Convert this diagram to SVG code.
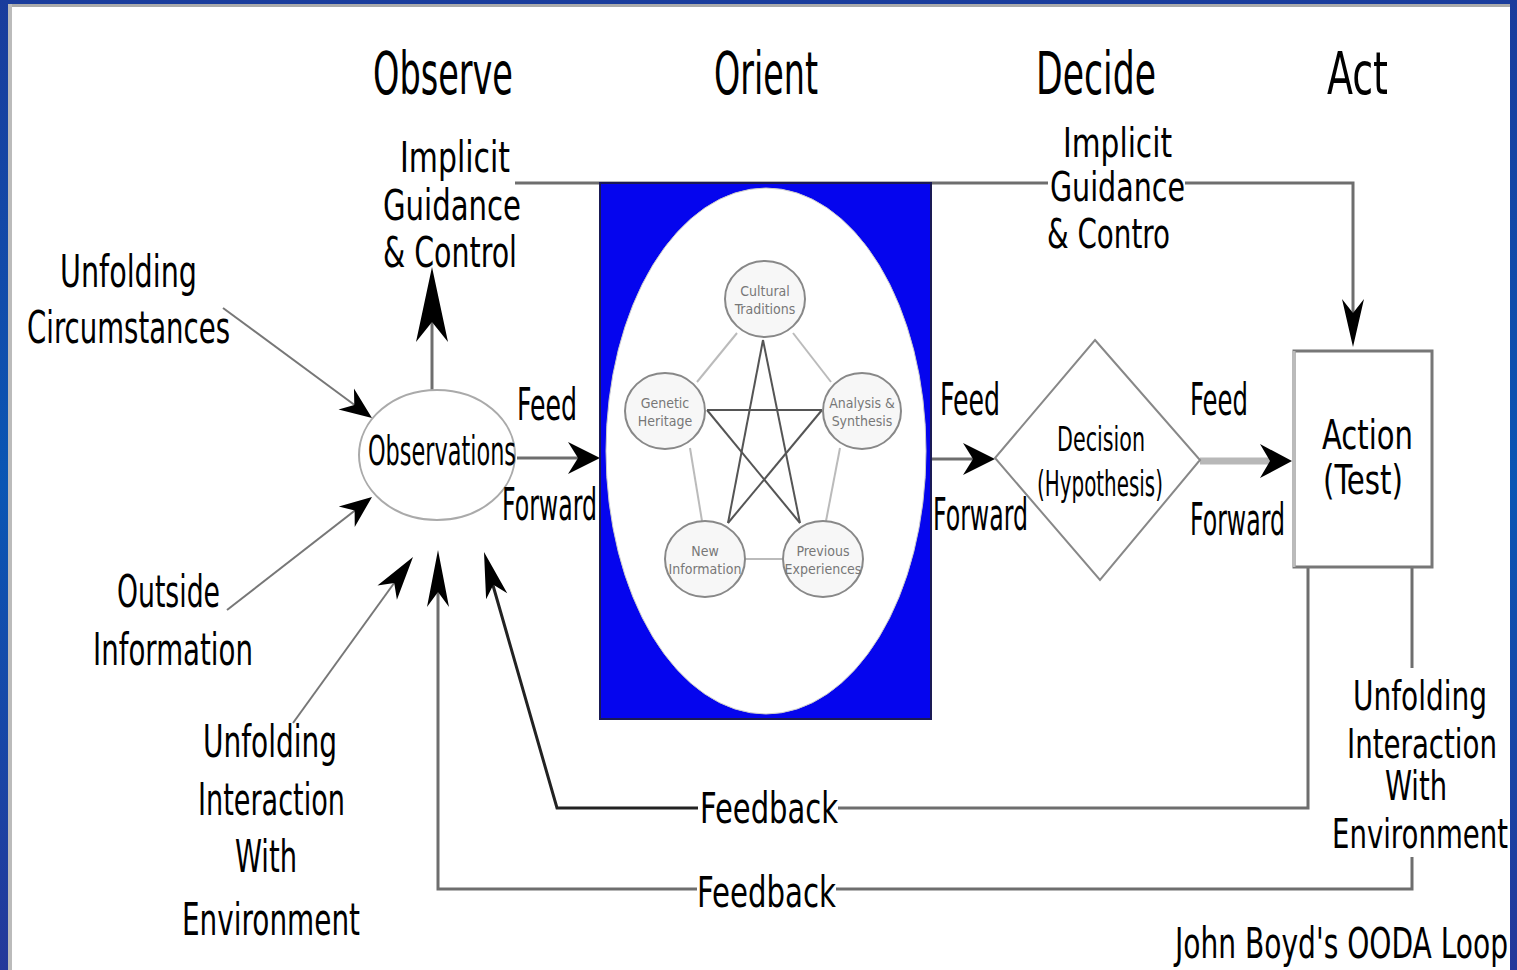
<svg xmlns="http://www.w3.org/2000/svg" width="1517" height="970" viewBox="0 0 1517 970">
<defs>
<linearGradient id="bg" x1="0" y1="0" x2="0" y2="1">
<stop offset="0" stop-color="#1a3c9c"/>
<stop offset="0.5" stop-color="#0a56b4"/>
<stop offset="1" stop-color="#24389a"/>
</linearGradient>
<style>
.t{font-family:"Liberation Sans Narrow","DejaVu Sans Condensed","Liberation Sans",sans-serif;fill:#000}
.h{font-size:58px}
.m{font-size:45px}
.n{font-size:41px}
.e{text-anchor:end}
.s{font-size:14px;fill:#777;text-anchor:middle}
.ln{fill:none;stroke:#6e6e6e;stroke-width:3}
.lt{fill:none;stroke:#777;stroke-width:2}
.ah{fill:#000}
.sc{fill:#f7f7f7;stroke:#888;stroke-width:2}
.pl{stroke:#bbb;stroke-width:2}
.st{stroke:#555;stroke-width:2}
</style>
</defs>
<rect x="0" y="0" width="1517" height="970" fill="url(#bg)"/>
<rect x="10" y="6" width="1500" height="964" fill="#fff"/>
<rect x="8" y="4" width="1502" height="3" fill="#aaa"/>
<rect x="8" y="4" width="4" height="966" fill="#bbb"/>

<g id="headings">
<text class="t h" x="373" y="94" textLength="140" lengthAdjust="spacingAndGlyphs">Observe</text>
<text class="t h" x="714" y="94" textLength="104" lengthAdjust="spacingAndGlyphs">Orient</text>
<text class="t h" x="1036" y="94" textLength="120" lengthAdjust="spacingAndGlyphs">Decide</text>
<text class="t h" x="1327" y="94" textLength="61" lengthAdjust="spacingAndGlyphs">Act</text>
</g>

<g id="connectors">
<polyline class="ln" points="515,183 1048,183"/>
<polyline class="ln" points="1185,183 1353,183 1353,330"/>
<path class="ah" d="M0,0 L-48,-11 L-34,0 L-48,11 Z" transform="translate(1353,347) rotate(90)"/>
<line class="ln" x1="432" y1="392" x2="432" y2="300"/>
<path class="ah" d="M0,0 L-75,-16 L-55,0 L-75,16 Z" transform="translate(432,267) rotate(-90)"/>
<line class="ln" x1="517" y1="458" x2="590" y2="458"/>
<path class="ah" d="M0,0 L-32,-16 L-22,0 L-32,16 Z" transform="translate(600,458)"/>
<line class="ln" x1="931" y1="459" x2="985" y2="459"/>
<path class="ah" d="M0,0 L-32,-16 L-22,0 L-32,16 Z" transform="translate(995,459)"/>
<line x1="1200" y1="461" x2="1280" y2="461" stroke="#b8b8b8" stroke-width="7"/>
<path class="ah" d="M0,0 L-32,-17 L-22,0 L-32,17 Z" transform="translate(1292,461)"/>
<line class="lt" x1="223" y1="308" x2="360" y2="409"/>
<path class="ah" d="M0,0 L-32,-13 L-22,0 L-32,13 Z" transform="translate(372,418) rotate(36.4)"/>
<line class="lt" x1="227" y1="610" x2="362" y2="505"/>
<path class="ah" d="M0,0 L-32,-13 L-22,0 L-32,13 Z" transform="translate(372,497) rotate(-37.9)"/>
<line class="lt" x1="293" y1="723" x2="405" y2="568"/>
<path class="ah" d="M0,0 L-44,-12 L-32,0 L-44,12 Z" transform="translate(413,557) rotate(-54.1)"/>
<polyline class="ln" points="1308,567 1308,808 838,808"/>
<polyline fill="none" stroke="#222" stroke-width="3" points="698,808 557,808 488,568"/>
<path class="ah" d="M0,0 L-46,-11 L-34,0 L-46,11 Z" transform="translate(484,552) rotate(-106)"/>
<line class="ln" x1="1412" y1="567" x2="1412" y2="668"/>
<polyline class="ln" points="1412,857 1412,889 836,889"/>
<polyline class="ln" points="697,889 438,889 438,575"/>
<path class="ah" d="M0,0 L-57,-11 L-42,0 L-57,11 Z" transform="translate(438,550) rotate(-90)"/>
</g>

<g id="observations">
<ellipse cx="437" cy="455" rx="78" ry="65" fill="#fff" stroke="#aaa" stroke-width="2"/>
<text class="t" font-size="40" x="368" y="465" textLength="148" lengthAdjust="spacingAndGlyphs">Observations</text>
</g>

<g id="implicit-left">
<text class="t" font-size="43" x="400" y="172" textLength="110" lengthAdjust="spacingAndGlyphs">Implicit</text>
<text class="t" font-size="43" x="383" y="220" textLength="138" lengthAdjust="spacingAndGlyphs">Guidance</text>
<text class="t" font-size="43" x="383" y="267" textLength="134" lengthAdjust="spacingAndGlyphs">&amp; Control</text>
</g>

<g id="implicit-right">
<text class="t n" x="1063" y="157" textLength="109" lengthAdjust="spacingAndGlyphs">Implicit</text>
<text class="t n" x="1050" y="201" textLength="135" lengthAdjust="spacingAndGlyphs">Guidance</text>
<text class="t n" x="1047" y="248" textLength="123" lengthAdjust="spacingAndGlyphs">&amp; Contro</text>
</g>

<g id="unfolding-circumstances">
<text class="t" font-size="44" x="60" y="287" textLength="137" lengthAdjust="spacingAndGlyphs">Unfolding</text>
<text class="t" font-size="44" x="27" y="343" textLength="203" lengthAdjust="spacingAndGlyphs">Circumstances</text>
</g>

<g id="outside-information">
<text class="t m" x="117" y="607" textLength="103" lengthAdjust="spacingAndGlyphs">Outside</text>
<text class="t m" x="93" y="665" textLength="160" lengthAdjust="spacingAndGlyphs">Information</text>
</g>

<g id="interaction-left">
<text class="t m" x="203" y="757" textLength="134" lengthAdjust="spacingAndGlyphs">Unfolding</text>
<text class="t m" x="198" y="815" textLength="147" lengthAdjust="spacingAndGlyphs">Interaction</text>
<text class="t m" x="235" y="872" textLength="62" lengthAdjust="spacingAndGlyphs">With</text>
<text class="t m" x="182" y="935" textLength="178" lengthAdjust="spacingAndGlyphs">Environment</text>
</g>

<g id="feed-labels">
<text class="t m" x="517" y="420" textLength="60" lengthAdjust="spacingAndGlyphs">Feed</text>
<text class="t m" x="502" y="520" textLength="95" lengthAdjust="spacingAndGlyphs">Forward</text>
<text class="t m" x="940" y="415" textLength="60" lengthAdjust="spacingAndGlyphs">Feed</text>
<text class="t m" x="933" y="530" textLength="95" lengthAdjust="spacingAndGlyphs">Forward</text>
<text class="t m" x="1190" y="415" textLength="58" lengthAdjust="spacingAndGlyphs">Feed</text>
<text class="t m" x="1190" y="535" textLength="95" lengthAdjust="spacingAndGlyphs">Forward</text>
</g>

<g id="orient">
<rect x="600" y="183" width="331" height="536" fill="#0505ee" stroke="#1a1a55" stroke-width="2"/>
<ellipse cx="766" cy="451" rx="160" ry="263" fill="#fff" stroke="#ccc" stroke-width="1"/>
<line class="pl" x1="737" y1="333" x2="697" y2="382"/>
<line class="pl" x1="793" y1="333" x2="831" y2="382"/>
<line class="pl" x1="690" y1="448" x2="702" y2="521"/>
<line class="pl" x1="840" y1="448" x2="826" y2="521"/>
<line class="pl" x1="745" y1="559" x2="783" y2="559"/>
<line class="st" x1="763" y1="340" x2="728" y2="523"/>
<line class="st" x1="763" y1="340" x2="800" y2="523"/>
<line class="st" x1="707" y1="410" x2="822" y2="410"/>
<line class="st" x1="707" y1="410" x2="800" y2="523"/>
<line class="st" x1="822" y1="410" x2="728" y2="523"/>
<ellipse class="sc" cx="765" cy="299" rx="40" ry="38"/>
<ellipse class="sc" cx="665" cy="411" rx="40" ry="38"/>
<ellipse class="sc" cx="862" cy="411" rx="39" ry="38"/>
<ellipse class="sc" cx="705" cy="559" rx="40" ry="38"/>
<ellipse class="sc" cx="823" cy="559" rx="40" ry="38"/>
<text class="t s" x="765" y="296">Cultural</text>
<text class="t s" x="765" y="314">Traditions</text>
<text class="t s" x="665" y="408">Genetic</text>
<text class="t s" x="665" y="426">Heritage</text>
<text class="t s" x="862" y="408">Analysis &amp;</text>
<text class="t s" x="862" y="426">Synthesis</text>
<text class="t s" x="705" y="556">New</text>
<text class="t s" x="705" y="574">Information</text>
<text class="t s" x="823" y="556" font-size="12">Previous</text>
<text class="t s" x="823" y="574" font-size="12">Experiences</text>
</g>

<g id="decision">
<polygon points="1095,340 1200,460 1100,580 995,458" fill="#fff" stroke="#888" stroke-width="2"/>
<text class="t" font-size="34" x="1057" y="451" textLength="88" lengthAdjust="spacingAndGlyphs">Decision</text>
<text class="t" font-size="35" x="1037" y="496" textLength="126" lengthAdjust="spacingAndGlyphs">(Hypothesis)</text>
</g>

<g id="action">
<rect x="1294" y="351" width="138" height="216" fill="#fff" stroke="#777" stroke-width="3"/>
<line x1="1294" y1="351" x2="1294" y2="567" stroke="#bbb" stroke-width="3"/>
<text class="t n" x="1322" y="449" textLength="91" lengthAdjust="spacingAndGlyphs">Action</text>
<text class="t n" x="1323" y="494" textLength="80" lengthAdjust="spacingAndGlyphs">(Test)</text>
</g>

<g id="feedback-labels">
<text class="t" font-size="43" x="700" y="823" textLength="138" lengthAdjust="spacingAndGlyphs">Feedback</text>
<text class="t" font-size="43" x="697" y="907" textLength="139" lengthAdjust="spacingAndGlyphs">Feedback</text>
</g>

<g id="interaction-right">
<text class="t n e" x="1487" y="710" textLength="134" lengthAdjust="spacingAndGlyphs">Unfolding</text>
<text class="t n e" x="1497" y="758" textLength="150" lengthAdjust="spacingAndGlyphs">Interaction</text>
<text class="t n e" x="1447" y="800" textLength="62" lengthAdjust="spacingAndGlyphs">With</text>
<text class="t n e" x="1508" y="848" textLength="176" lengthAdjust="spacingAndGlyphs">Environment</text>
</g>

<g id="caption">
<text class="t e" font-size="43" x="1508" y="958" textLength="333" lengthAdjust="spacingAndGlyphs">John Boyd's OODA Loop</text>
</g>
</svg>
